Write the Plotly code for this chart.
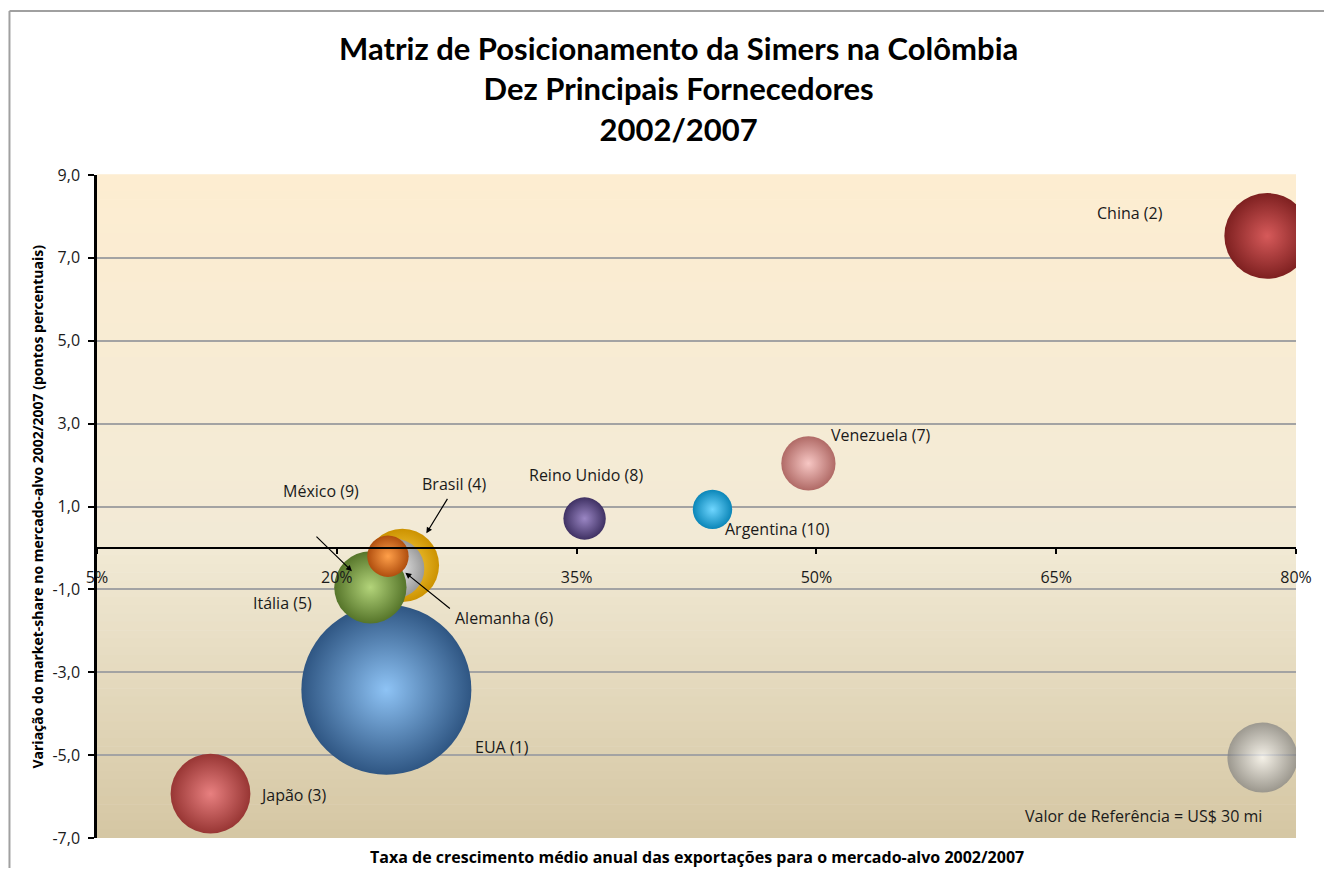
import plotly.graph_objects as go

# dados (taxa de crescimento %, variação do market-share p.p., valor US$ mi)
paises = ["EUA (1)", "China (2)", "Japão (3)", "Brasil (4)", "Alemanha (6)",
          "Itália (5)", "Venezuela (7)", "Reino Unido (8)", "México (9)", "Argentina (10)"]
crescimento = [23.1, 78.2, 12.1, 24.1, 23.6, 22.1, 49.5, 35.5, 23.2, 43.5]
var_share = [-3.42, 7.53, -5.93, -0.42, -0.50, -0.95, 2.04, 0.71, -0.20, 0.93]
valor = [177, 45, 39, 33, 22, 32, 18, 11, 10.5, 9.5]

ref_x = [77.9]
ref_y = [-5.06]
ref_valor = [30]
ref_texto = "Valor de Referência = US$ 30 mi"

x_ticks = [5, 20, 35, 50, 65, 80]
x_ticktext = ["5%", "20%", "35%", "50%", "65%", "80%"]
y_ticks = [-7, -5, -3, -1, 1, 3, 5, 7, 9]
y_ticktext = ["-7,0", "-5,0", "-3,0", "-1,0", "1,0", "3,0", "5,0", "7,0", "9,0"]

# cores (borda escura, centro claro)
cor_borda = ["#2f5683", "#7e2020", "#983634", "#cc9200", "#9a9a9a",
             "#56752a", "#b06a66", "#3f3163", "#b04e0e", "#0b86b8"]
cor_centro = ["#8ec3f5", "#d65a5a", "#e88080", "#ffd84d", "#f4f4f4",
              "#b3d47a", "#f7c7c4", "#9a86c4", "#ffa04a", "#6fd6ff"]

# deslocamento dos rótulos (px) em relação ao centro da bolha
desloc = {
    "EUA (1)": (116, -57), "China (2)": (-137, 23), "Japão (3)": (83, -1),
    "Brasil (4)": (52, 81), "Alemanha (6)": (110, -49), "Itália (5)": (-88, -16),
    "Venezuela (7)": (73, 28), "Reino Unido (8)": (1, 44), "México (9)": (-67, 65),
    "Argentina (10)": (65, -20),
}
# setas: (xshift, yshift, ax, ay)
setas = {
    "México (9)": (-36, -15, -37, -36),
    "Brasil (4)": (24, 32, 22, -36),
    "Alemanha (6)": (11, -4, 46, 37),
}

sizeref = 30 / (2 * 35 ** 2)
fonte = "Open Sans"
fonte_titulo = "Lato"

fig = go.Figure()
fig.add_trace(go.Scatter(
    x=crescimento, y=var_share, mode="markers",
    marker=dict(size=valor, sizemode="area", sizeref=sizeref, color=cor_borda,
                gradient=dict(type="radial", color=cor_centro), line=dict(width=0),
                opacity=1),
    hovertext=paises, showlegend=False))
fig.add_trace(go.Scatter(
    x=ref_x, y=ref_y, mode="markers",
    marker=dict(size=ref_valor, sizemode="area", sizeref=sizeref, color="#808080",
                gradient=dict(type="radial", color="#ffffff"), line=dict(width=0)),
    showlegend=False))

# fundo em degradê
def mistura(c1, c2, t):
    return "rgb(%d,%d,%d)" % tuple(round(a + (b - a) * t) for a, b in zip(c1, c2))

topo, meio, base = (253, 237, 209), (242, 234, 214), (213, 199, 163)
n = 80
shapes = []
for i in range(n):
    t = (i + 0.5) / n
    cor = mistura(topo, meio, t / 0.55) if t < 0.55 else mistura(meio, base, (t - 0.55) / 0.45)
    shapes.append(dict(type="rect", xref="paper", yref="paper", x0=0, x1=1,
                       y0=1 - (i + 1) / n, y1=1 - i / n + 0.001,
                       fillcolor=cor, line=dict(width=0), layer="below"))
# moldura do gráfico
shapes.append(dict(type="line", xref="paper", yref="paper", x0=-0.073, x1=-0.073,
                   y0=1.2474, y1=-0.09, line=dict(color="#a0a0a0", width=2)))
shapes.append(dict(type="line", xref="paper", yref="paper", x0=-0.073, x1=1.04,
                   y0=1.2474, y1=1.2474, line=dict(color="#a0a0a0", width=2)))

fonte_rot = dict(size=16, color="#1a1a1a", family=fonte)
annotations = []
for p, x, y in zip(paises, crescimento, var_share):
    dx, dy = desloc[p]
    annotations.append(dict(x=x, y=y, text=p, showarrow=False, xshift=dx, yshift=dy,
                            font=fonte_rot))
    if p in setas:
        sx, sy, ax, ay = setas[p]
        annotations.append(dict(x=x, y=y, text="", showarrow=True, xshift=sx, yshift=sy,
                                ax=ax, ay=ay, arrowhead=2, arrowsize=1, arrowwidth=1.2,
                                arrowcolor="black"))
annotations.append(dict(x=ref_x[0], y=ref_y[0], text=ref_texto, showarrow=False,
                        xshift=-119, yshift=-58, font=fonte_rot))

annotations.append(dict(xref="paper", yref="paper", x=0.4846, y=1.131,
                        xanchor="center", yanchor="middle",
                        text="<b>Matriz de Posicionamento da Simers na Colômbia<br>"
                             "Dez Principais Fornecedores<br>2002/2007</b>",
                        showarrow=False, font=dict(size=31, color="black", family=fonte_titulo)))
annotations.append(dict(xref="paper", yref="paper", x=0.5, y=-0.0287,
                        xanchor="center", yanchor="middle",
                        text="<b>Taxa de crescimento médio anual das exportações para o mercado-alvo 2002/2007</b>",
                        showarrow=False, font=dict(size=16, color="black", family=fonte)))
annotations.append(dict(xref="paper", yref="paper", x=-0.05, y=0.5, textangle=-90,
                        xanchor="center", yanchor="middle",
                        text="<b>Variação do market-share no mercado-alvo 2002/2007 (pontos percentuais)</b>",
                        showarrow=False, font=dict(size=14, color="black", family=fonte)))

fig.update_layout(
    width=1316, height=860,
    margin=dict(l=89, r=28, t=167, b=30),
    paper_bgcolor="white", plot_bgcolor="rgba(0,0,0,0)",
    shapes=shapes, annotations=annotations,
    font=dict(family=fonte, size=16, color="#1a1a1a"),
    xaxis=dict(range=[5, 80], tickvals=x_ticks, ticktext=x_ticktext, showgrid=False,
               zeroline=False, anchor="free", position=7 / 16, showline=True,
               linecolor="black", linewidth=2, ticks="outside", ticklen=5,
               tickwidth=1.5, tickcolor="black", tickfont=dict(size=16),
               ticklabelstandoff=10),
    yaxis=dict(range=[-7, 9], tickvals=y_ticks, ticktext=y_ticktext, showgrid=True,
               gridcolor="#a3a3a3", gridwidth=1.5, zeroline=False, showline=True,
               linecolor="black", linewidth=2.5, ticks="outside", ticklen=6,
               tickwidth=1.5, tickcolor="black", tickfont=dict(size=16),
               ticklabelstandoff=5),
)

fig.write_html("out.html")
